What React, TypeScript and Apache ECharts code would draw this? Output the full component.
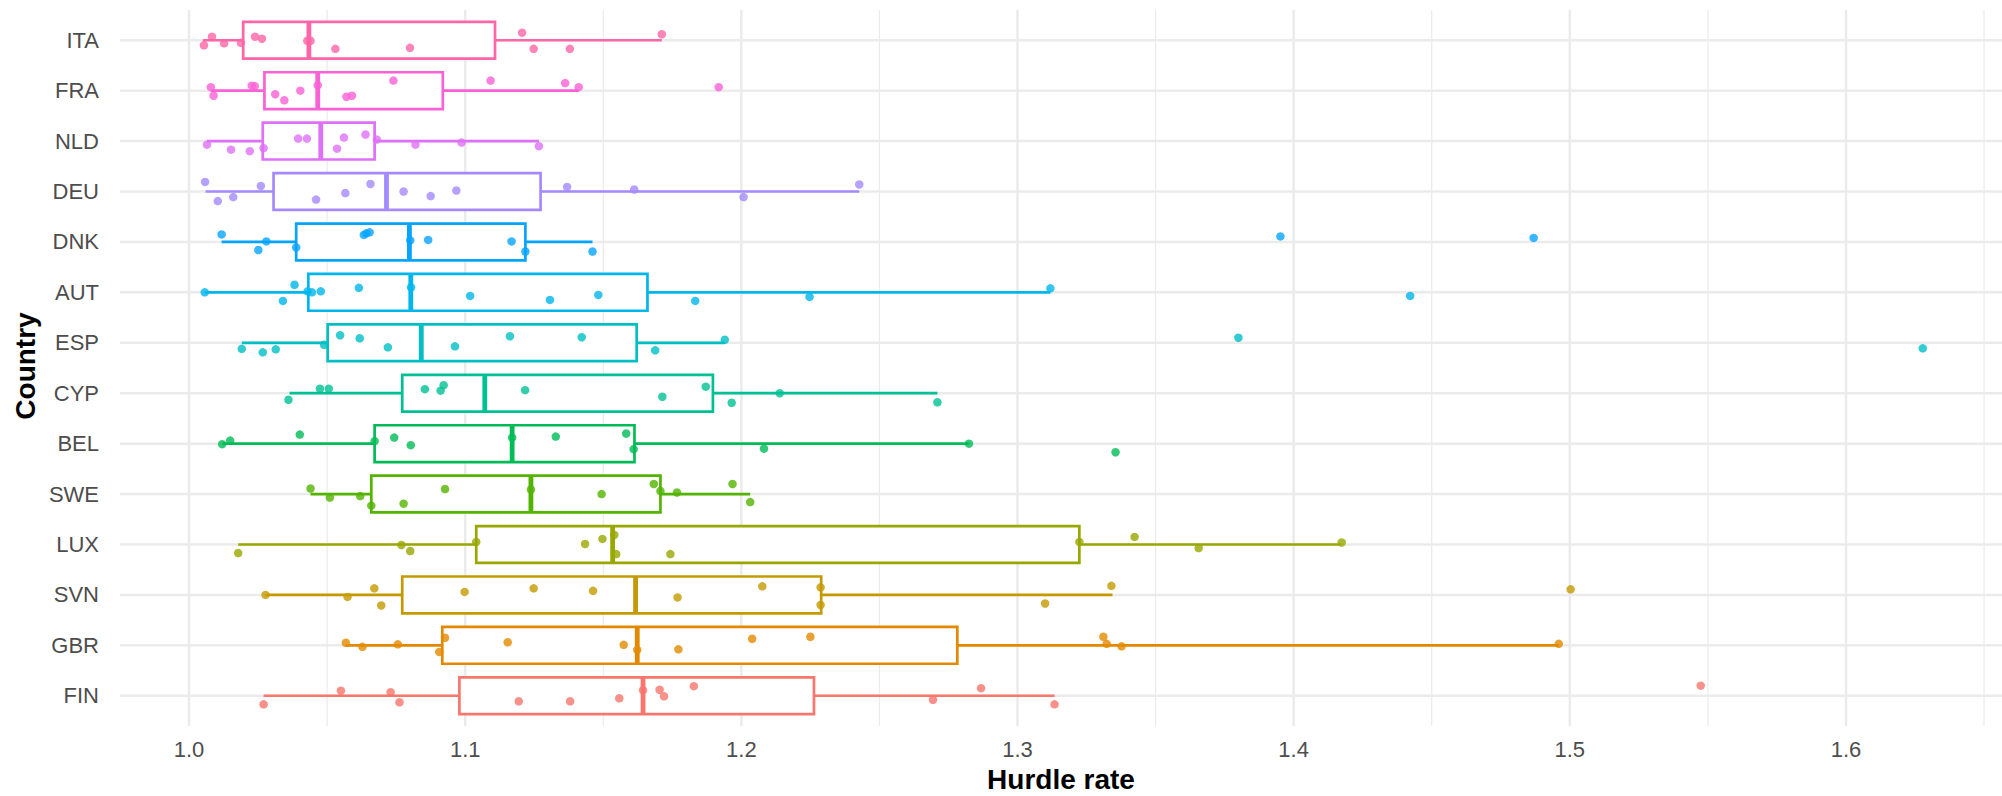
import React, { useEffect, useRef } from 'react';
import * as echarts from 'echarts';

// Categories, bottom to top
const countries = ['FIN', 'GBR', 'SVN', 'LUX', 'SWE', 'BEL', 'CYP', 'ESP', 'AUT', 'DNK', 'DEU', 'NLD', 'FRA', 'ITA'];
const colors = ['#F8766D', '#E38900', '#C49A00', '#99A800', '#53B400', '#00BC56', '#00C094', '#00BFC4', '#00B6EB', '#06A4FF', '#A58AFF', '#DF70F8', '#FB61D7', '#FF66A8'];

const xTicks = [1.0, 1.1, 1.2, 1.3, 1.4, 1.5, 1.6];
const xMinorTicks = [1.05, 1.15, 1.25, 1.35, 1.45, 1.55, 1.65];

// Box stats: [lower whisker, Q1, median, Q3, upper whisker]
const boxFIN = [1.027, 1.0979, 1.1644, 1.2263, 1.3134];
const boxGBR = [1.0568, 1.0917, 1.1623, 1.2782, 1.496];
const boxSVN = [1.0277, 1.0772, 1.1617, 1.2289, 1.3344];
const boxLUX = [1.0178, 1.104, 1.1534, 1.3224, 1.417];
const boxSWE = [1.044, 1.066, 1.1238, 1.1707, 1.2032];
const boxBEL = [1.0121, 1.0672, 1.117, 1.1613, 1.2824];
const boxCYP = [1.0364, 1.0772, 1.1071, 1.1897, 1.271];
const boxESP = [1.0191, 1.0502, 1.0841, 1.1621, 1.194];
const boxAUT = [1.0057, 1.0432, 1.0803, 1.166, 1.3119];
const boxDNK = [1.0118, 1.0388, 1.0798, 1.1218, 1.1461];
const boxDEU = [1.006, 1.0306, 1.0715, 1.1273, 1.2427];
const boxNLD = [1.0065, 1.0267, 1.0477, 1.0672, 1.1267];
const boxFRA = [1.0079, 1.0273, 1.0466, 1.0919, 1.1411];
const boxITA = [1.005, 1.0196, 1.0434, 1.1108, 1.1712];

// Observed hurdle rates per country
const ptsFIN = [1.027, 1.055, 1.073, 1.0762, 1.1194, 1.138, 1.1558, 1.1644, 1.1704, 1.172, 1.1828, 1.2694, 1.2868, 1.3134, 1.5474];
const ptsGBR = [1.0568, 1.0628, 1.0756, 1.0906, 1.0927, 1.1154, 1.1574, 1.1623, 1.1772, 1.2039, 1.225, 1.3311, 1.3323, 1.3377, 1.496];
const ptsSVN = [1.0277, 1.0574, 1.0671, 1.0696, 1.0998, 1.1248, 1.1463, 1.1769, 1.2076, 1.2287, 1.2287, 1.31, 1.334, 1.5003];
const ptsLUX = [1.0178, 1.0769, 1.0801, 1.104, 1.1434, 1.1497, 1.154, 1.1547, 1.1743, 1.3224, 1.3424, 1.3656, 1.4174];
const ptsSWE = [1.044, 1.051, 1.062, 1.066, 1.0777, 1.0927, 1.1238, 1.1494, 1.1683, 1.1707, 1.1767, 1.1968, 1.2032];
const ptsBEL = [1.012, 1.0149, 1.0401, 1.0672, 1.0743, 1.0803, 1.117, 1.1328, 1.1583, 1.161, 1.2082, 1.2824, 1.3355];
const ptsCYP = [1.036, 1.0474, 1.0506, 1.0854, 1.0911, 1.0922, 1.1217, 1.1714, 1.1871, 1.1965, 1.2139, 1.271];
const ptsESP = [1.0191, 1.0267, 1.0314, 1.0489, 1.0547, 1.0618, 1.072, 1.0963, 1.1162, 1.1422, 1.1688, 1.194, 1.38, 1.6278];
const ptsAUT = [1.0057, 1.034, 1.0382, 1.0429, 1.0445, 1.0477, 1.0615, 1.0804, 1.1018, 1.1307, 1.1482, 1.1833, 1.2247, 1.3119, 1.4422];
const ptsDNK = [1.0118, 1.0251, 1.028, 1.0388, 1.0633, 1.0642, 1.0654, 1.0801, 1.0866, 1.1168, 1.1218, 1.1461, 1.3952, 1.4869];
const ptsDEU = [1.0058, 1.0104, 1.016, 1.026, 1.046, 1.0566, 1.0657, 1.0777, 1.0875, 1.0968, 1.1369, 1.1612, 1.2008, 1.2427];
const ptsNLD = [1.0065, 1.0152, 1.022, 1.027, 1.0395, 1.0427, 1.0536, 1.0561, 1.0639, 1.068, 1.082, 1.0987, 1.1267];
const ptsFRA = [1.0079, 1.0089, 1.0227, 1.0238, 1.0312, 1.0345, 1.0403, 1.0466, 1.057, 1.059, 1.074, 1.1092, 1.1362, 1.1411, 1.1918];
const ptsITA = [1.0054, 1.0083, 1.0127, 1.0188, 1.0239, 1.0264, 1.0428, 1.044, 1.053, 1.08, 1.1206, 1.1248, 1.1379, 1.1712];

// Vertical jitter of each point (fraction of a row, positive = up)
const jitFIN = [-0.17, 0.1, 0.07, -0.13, -0.11, -0.11, -0.05, 0.11, 0.12, -0.01, 0.19, -0.08, 0.15, -0.17, 0.2];
const jitGBR = [0.05, -0.03, 0.02, -0.13, 0.15, 0.06, 0.01, -0.09, -0.08, 0.13, 0.17, 0.17, 0.03, -0.02, 0.03];
const jitSVN = [0, -0.04, 0.13, -0.21, 0.06, 0.13, 0.08, -0.05, 0.17, 0.15, -0.2, -0.17, 0.18, 0.11];
const jitLUX = [-0.17, -0.01, -0.13, 0.05, 0.01, 0.11, 0.19, -0.19, -0.19, 0.05, 0.15, -0.07, 0.04];
const jitSWE = [0.11, -0.07, -0.04, -0.23, -0.19, 0.1, 0.09, 0, 0.2, 0.06, 0.03, 0.2, -0.16];
const jitBEL = [-0.01, 0.06, 0.18, 0.05, 0.12, -0.03, 0.12, 0.14, 0.2, -0.11, -0.1, 0, -0.17];
const jitCYP = [-0.13, 0.09, 0.09, 0.08, 0.05, 0.16, 0.06, -0.07, 0.13, -0.19, 0, -0.18];
const jitESP = [-0.12, -0.19, -0.13, -0.04, 0.15, 0.09, -0.09, -0.07, 0.13, 0.11, -0.15, 0.06, 0.1, -0.11];
const jitAUT = [0, -0.17, 0.15, 0.02, 0, 0.02, 0.09, 0.1, -0.07, -0.15, -0.05, -0.17, -0.09, 0.08, -0.07];
const jitDNK = [0.15, -0.16, 0.01, -0.11, 0.14, 0.17, 0.19, 0.03, 0.04, 0.01, -0.19, -0.19, 0.11, 0.08];
const jitDEU = [0.19, -0.19, -0.11, 0.11, -0.16, -0.03, 0.15, 0, -0.09, 0.02, 0.09, 0.04, -0.11, 0.14];
const jitNLD = [-0.07, -0.17, -0.2, -0.14, 0.05, 0.05, -0.15, 0.07, 0.13, 0.03, -0.07, -0.03, -0.1];
const jitFRA = [0.07, -0.1, 0.1, 0.09, -0.07, -0.19, 0, 0.11, -0.12, -0.1, 0.2, 0.2, 0.15, 0.07, 0.07];
const jitITA = [-0.1, 0.07, -0.06, -0.05, 0.07, 0.03, -0.01, -0.01, -0.17, -0.15, 0.15, -0.17, -0.17, 0.12];

const boxes = [boxFIN, boxGBR, boxSVN, boxLUX, boxSWE, boxBEL, boxCYP, boxESP, boxAUT, boxDNK, boxDEU, boxNLD, boxFRA, boxITA];
const points = [ptsFIN, ptsGBR, ptsSVN, ptsLUX, ptsSWE, ptsBEL, ptsCYP, ptsESP, ptsAUT, ptsDNK, ptsDEU, ptsNLD, ptsFRA, ptsITA];
const jitters = [jitFIN, jitGBR, jitSVN, jitLUX, jitSWE, jitBEL, jitCYP, jitESP, jitAUT, jitDNK, jitDEU, jitNLD, jitFRA, jitITA];

const FONT = '"Liberation Sans", Arial, Helvetica, sans-serif';
const GRID = '#EBEBEB';

export default function App() {
  const ref = useRef<HTMLDivElement>(null);

  useEffect(() => {
    document.body.style.margin = '0';
    if (!ref.current) return;
    const chart = echarts.init(ref.current, undefined, { renderer: 'svg' });

    const vLine = (width: number) => (params: any, api: any) => {
      const cs = params.coordSys;
      const x = api.coord([api.value(0), 0])[0];
      return { type: 'line', shape: { x1: x, y1: cs.y, x2: x, y2: cs.y + cs.height }, style: { stroke: GRID, lineWidth: width } };
    };
    const hLine = (params: any, api: any) => {
      const cs = params.coordSys;
      const y = api.coord([1.2, api.value(1)])[1];
      return { type: 'line', shape: { x1: cs.x, y1: y, x2: cs.x + cs.width, y2: y }, style: { stroke: GRID, lineWidth: 2.5 } };
    };

    const boxData = boxes.map((b, i) => [i, ...b]);
    const scatterData: any[] = [];
    points.forEach((arr, i) => {
      arr.forEach((v, k) => {
        scatterData.push({ value: [v, i + jitters[i][k]], itemStyle: { color: colors[i] } });
      });
    });

    chart.setOption({
      animation: false,
      backgroundColor: '#ffffff',
      grid: { left: 120, right: 0, top: 10, bottom: 70, containLabel: false },
      xAxis: {
        type: 'value', min: 0.975, max: 1.6565,
        axisLine: { show: false }, axisTick: { show: false }, splitLine: { show: false },
        axisLabel: {
          customValues: xTicks, formatter: (v: number) => v.toFixed(1),
          fontSize: 22, color: '#4D4D4D', fontFamily: FONT, margin: 12,
        },
      },
      yAxis: {
        type: 'value', min: -0.6, max: 13.6,
        axisLine: { show: false }, axisTick: { show: false }, splitLine: { show: false },
        axisLabel: {
          customValues: countries.map((_, i) => i), formatter: (v: number) => countries[Math.round(v)],
          fontSize: 22, color: '#4D4D4D', fontFamily: FONT, margin: 21,
        },
      },
      graphic: [
        { type: 'text', x: 1061, y: 779, style: { text: 'Hurdle rate', font: `bold 28px ${FONT}`, fill: '#000', textAlign: 'center', textVerticalAlign: 'middle' } },
        { type: 'text', x: 25, y: 366, rotation: Math.PI / 2, style: { text: 'Country', font: `bold 28px ${FONT}`, fill: '#000', textAlign: 'center', textVerticalAlign: 'middle' } },
      ],
      series: [
        { type: 'custom', silent: true, z: 0, renderItem: vLine(1.2), data: xMinorTicks.map((v) => [v, 0]), encode: { x: 0, y: 1 } },
        { type: 'custom', silent: true, z: 0, renderItem: vLine(2.5), data: xTicks.map((v) => [v, 0]), encode: { x: 0, y: 1 } },
        { type: 'custom', silent: true, z: 0, renderItem: hLine, data: countries.map((_, i) => [1.2, i]), encode: { x: 0, y: 1 } },
        {
          type: 'custom', silent: true, z: 2,
          encode: { x: [1, 2, 3, 4, 5], y: 0 },
          data: boxData,
          renderItem: (params: any, api: any) => {
            const idx = api.value(0);
            const pLow = api.coord([api.value(1), idx]);
            const pQ1 = api.coord([api.value(2), idx]);
            const pMed = api.coord([api.value(3), idx]);
            const pQ3 = api.coord([api.value(4), idx]);
            const pHigh = api.coord([api.value(5), idx]);
            const band = api.size([0, 1])[1];
            const half = band * 0.365;
            const y = pQ1[1];
            const c = colors[idx];
            return {
              type: 'group',
              children: [
                { type: 'line', shape: { x1: pLow[0], y1: y, x2: pQ1[0], y2: y }, style: { stroke: c, lineWidth: 2.7 } },
                { type: 'line', shape: { x1: pQ3[0], y1: y, x2: pHigh[0], y2: y }, style: { stroke: c, lineWidth: 2.7 } },
                { type: 'rect', shape: { x: pQ1[0], y: y - half, width: pQ3[0] - pQ1[0], height: 2 * half }, style: { fill: '#ffffff', stroke: c, lineWidth: 2.7 } },
                { type: 'line', shape: { x1: pMed[0], y1: y - half, x2: pMed[0], y2: y + half }, style: { stroke: c, lineWidth: 4.8 } },
              ],
            };
          },
        },
        {
          type: 'scatter', silent: true, z: 3, symbol: 'circle', symbolSize: 8.5,
          data: scatterData,
        },
      ],
    });

    return () => chart.dispose();
  }, []);

  return <div ref={ref} style={{ width: 2002, height: 796 }} />;
}
